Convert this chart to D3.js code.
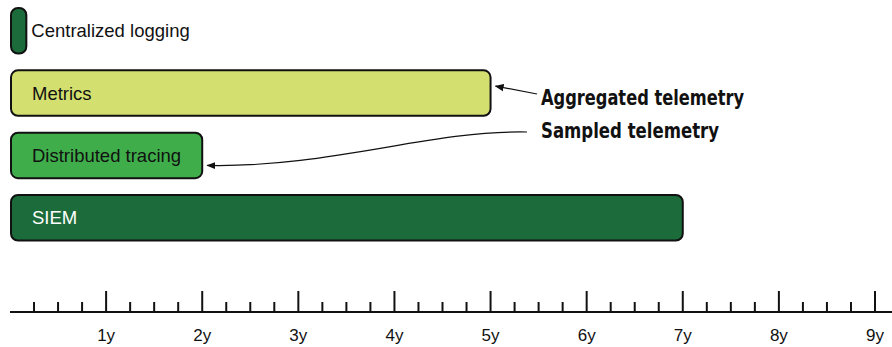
<!DOCTYPE html>
<html>
<head>
<meta charset="utf-8">
<script src="https://cdn.jsdelivr.net/npm/d3@7"></script>
<style>
  html, body { margin: 0; padding: 0; background: #fff; }
  svg { display: block; }
</style>
</head>
<body>
<svg id="chart" width="892" height="347"></svg>
<script>
// ---- data ----
const categories = ["Centralized logging", "Metrics", "Distributed tracing", "SIEM"];
const durations = [0.17, 5, 2, 7];            // years of retention
const yearTicks = [1, 2, 3, 4, 5, 6, 7, 8, 9];
const tickLabels = ["1y", "2y", "3y", "4y", "5y", "6y", "7y", "8y", "9y"];
const quarterTicks = d3.range(1, 37).map(q => q / 4); // 0.25 .. 9
const annotations = ["Aggregated telemetry", "Sampled telemetry"];
const annotationTargets = ["Metrics", "Distributed tracing"];

// ---- styles ----
const fills = {
  "Centralized logging": "#1c6b3b",
  "Metrics": "#d3e06f",
  "Distributed tracing": "#3fae4a",
  "SIEM": "#1c6b3b"
};
const textFill = {
  "Centralized logging": "#111",
  "Metrics": "#111",
  "Distributed tracing": "#111",
  "SIEM": "#fff"
};

const svg = d3.select("#chart");

const x = d3.scaleLinear().domain([0, 9]).range([10, 875]);
const y = d3.scaleBand().domain(categories).range([8, 240.5]).paddingInner(0.27).paddingOuter(0);

svg.append("defs").append("marker")
  .attr("id", "ah")
  .attr("viewBox", "0 0 10 10")
  .attr("refX", 9).attr("refY", 5)
  .attr("markerWidth", 9).attr("markerHeight", 9)
  .attr("markerUnits", "userSpaceOnUse")
  .attr("orient", "auto")
  .append("path").attr("d", "M0,1 L10,5 L0,9 Z").attr("fill", "#111");

// bars
const rows = categories.map((c, i) => ({ c, v: durations[i] }));
svg.selectAll("rect.bar").data(rows).join("rect")
  .attr("class", "bar")
  .attr("x", x(0) + 1)
  .attr("y", d => y(d.c))
  .attr("width", d => x(d.v) - x(0) - 1)
  .attr("height", y.bandwidth())
  .attr("rx", 7).attr("ry", 7)
  .attr("fill", d => fills[d.c])
  .attr("stroke", "#111")
  .attr("stroke-width", 2);

svg.selectAll("text.lbl").data(rows).join("text")
  .attr("class", "lbl")
  .attr("x", d => d.v < 0.5 ? x(d.v) + 5 : x(0) + 22)
  .attr("y", d => y(d.c) + y.bandwidth() / 2)
  .attr("dy", "0.35em")
  .attr("font-family", "Liberation Sans, Arial, sans-serif")
  .attr("font-size", 18.5)
  .attr("fill", d => textFill[d.c])
  .text(d => d.c);

// axis
const axisY = 312;
svg.append("line")
  .attr("x1", x(0)).attr("x2", 892)
  .attr("y1", axisY).attr("y2", axisY)
  .attr("stroke", "#111").attr("stroke-width", 2);

svg.selectAll("line.tick").data(quarterTicks).join("line")
  .attr("class", "tick")
  .attr("x1", d => x(d)).attr("x2", d => x(d))
  .attr("y1", axisY)
  .attr("y2", d => Number.isInteger(d) ? axisY - 21 : axisY - 10)
  .attr("stroke", "#111").attr("stroke-width", 2);

svg.selectAll("text.tl").data(yearTicks).join("text")
  .attr("class", "tl")
  .attr("x", d => x(d))
  .attr("y", 341)
  .attr("text-anchor", "middle")
  .attr("font-family", "Liberation Sans, Arial, sans-serif")
  .attr("font-size", 17)
  .attr("fill", "#111")
  .text((d, i) => tickLabels[i]);

// annotations
const annFont = "'Liberation Sans Narrow', 'DejaVu Sans Condensed', 'DejaVu Sans', sans-serif";
const annY = [105, 138];
const annW = [203, 178];
annotations.forEach((t, i) => {
  svg.append("text")
    .attr("x", 541).attr("y", annY[i])
    .attr("font-family", annFont)
    .attr("font-weight", "bold")
    .attr("font-size", 21)
    .attr("fill", "#111")
    .attr("textLength", annW[i])
    .attr("lengthAdjust", "spacingAndGlyphs")
    .text(t);
});

// arrow to Metrics end
const mEnd = x(durations[categories.indexOf(annotationTargets[0])]);
const mY = y(annotationTargets[0]) + y.bandwidth() / 2;
svg.append("path")
  .attr("d", `M537,94 L${mEnd + 5},${mY - 7}`)
  .attr("fill", "none").attr("stroke", "#111").attr("stroke-width", 1.2)
  .attr("marker-end", "url(#ah)");

// curved arrow to Distributed tracing end
const dEnd = x(durations[categories.indexOf(annotationTargets[1])]);
const dY = y(annotationTargets[1]) + y.bandwidth() / 2;
svg.append("path")
  .attr("d", `M527,132 C430,130 330,168 ${dEnd + 5},${dY + 10}`)
  .attr("fill", "none").attr("stroke", "#111").attr("stroke-width", 1.2)
  .attr("marker-end", "url(#ah)");
</script>
</body>
</html>
